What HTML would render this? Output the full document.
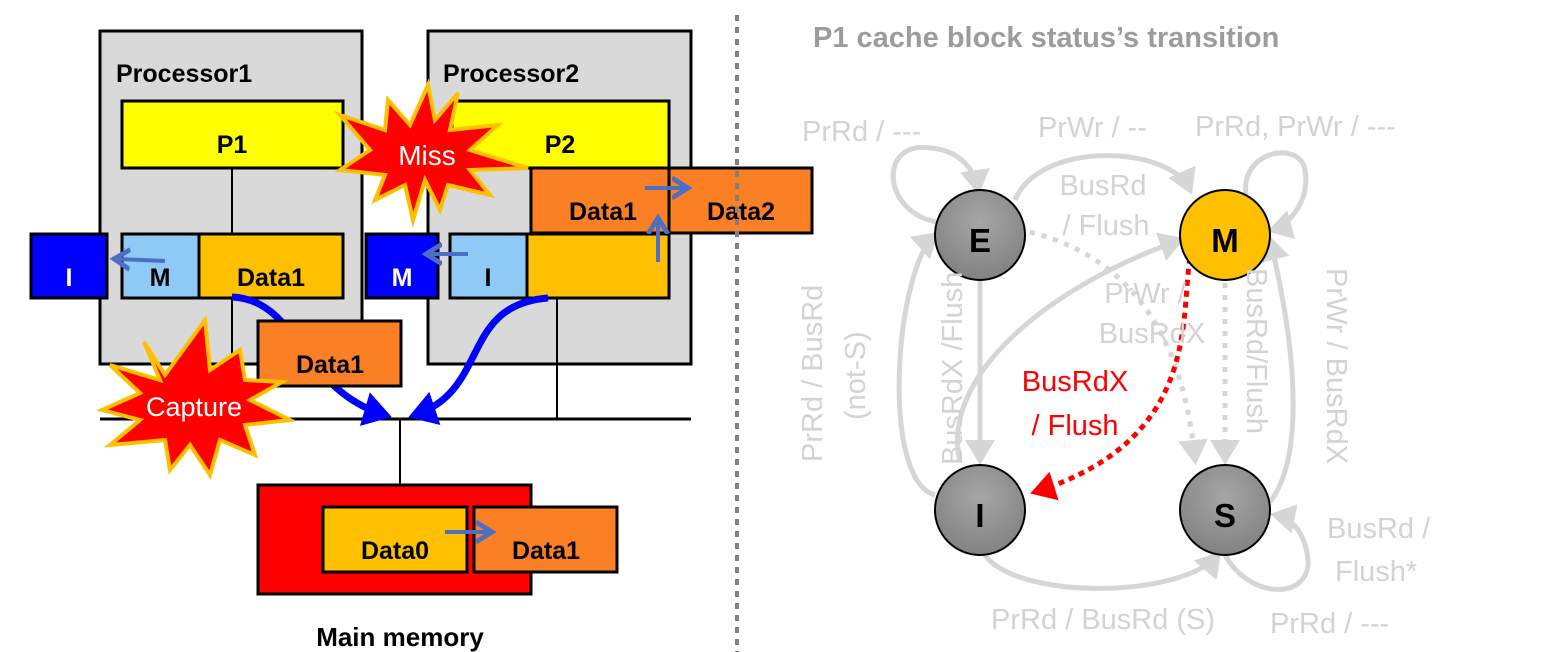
<!DOCTYPE html>
<html><head><meta charset="utf-8"><style>
html,body{margin:0;padding:0;background:#fff;}
svg{display:block;font-family:"Liberation Sans",sans-serif;}
.b{font-weight:bold;}
.g{fill:#d3d3d3;font-size:29px;}
</style></head><body>
<svg width="1555" height="652" viewBox="0 0 1555 652">
<defs>
<marker id="ag" markerWidth="6" markerHeight="6" refX="4" refY="3" orient="auto" markerUnits="strokeWidth"><path d="M0,0L5,3L0,6z" fill="#d6d6d6"/></marker>
<marker id="ar" markerWidth="6" markerHeight="6" refX="4" refY="3" orient="auto" markerUnits="strokeWidth"><path d="M0,0L5,3L0,6z" fill="#f00"/></marker>
<marker id="ab" markerWidth="5" markerHeight="5" refX="3" refY="2.5" orient="auto" markerUnits="strokeWidth"><path d="M0,0L4,2.5L0,5z" fill="#0000ff"/></marker>
<marker id="as" markerWidth="6" markerHeight="6" refX="3" refY="3" orient="auto" markerUnits="strokeWidth"><path d="M0,0.5L4,3L0,5.5" fill="none" stroke="#4a6fc4" stroke-width="1.2"/></marker>
<radialGradient id="gg" cx="0.5" cy="0.35" r="0.7"><stop offset="0" stop-color="#a6a6a6"/><stop offset="1" stop-color="#7f7f7f"/></radialGradient>
</defs>
<rect x="100" y="31" width="262" height="333" fill="#d9d9d9" stroke="#000" stroke-width="3"/>
<rect x="428" y="31" width="263" height="333" fill="#d9d9d9" stroke="#000" stroke-width="3"/>
<text x="116" y="82" class="b" font-size="25">Processor1</text>
<text x="443" y="82" class="b" font-size="25">Processor2</text>
<line x1="232" y1="168" x2="232" y2="233" stroke="#000" stroke-width="2"/>
<line x1="232" y1="298" x2="232" y2="372" stroke="#000" stroke-width="2"/>
<line x1="557" y1="298" x2="557" y2="419" stroke="#000" stroke-width="2"/>
<line x1="100" y1="419" x2="691" y2="419" stroke="#000" stroke-width="3"/>
<line x1="400" y1="419" x2="400" y2="485" stroke="#000" stroke-width="2"/>
<rect x="122" y="101" width="221" height="67" fill="#ffff00" stroke="#000" stroke-width="3"/>
<text x="232" y="153" class="b" font-size="25" text-anchor="middle">P1</text>
<rect x="452" y="101" width="217" height="67" fill="#ffff00" stroke="#000" stroke-width="3"/>
<text x="560" y="153" class="b" font-size="25" text-anchor="middle">P2</text>
<rect x="31" y="234" width="76" height="64" fill="#0000ff" stroke="#000" stroke-width="3"/>
<text x="69" y="286" class="b" font-size="25" fill="#fff" text-anchor="middle">I</text>
<rect x="122" y="234" width="77" height="64" fill="#8fc9f5" stroke="#000" stroke-width="3"/>
<text x="160" y="286" class="b" font-size="25" text-anchor="middle">M</text>
<rect x="199" y="234" width="144" height="64" fill="#ffc000" stroke="#000" stroke-width="3"/>
<text x="271" y="286" class="b" font-size="25" text-anchor="middle">Data1</text>
<line x1="165" y1="261" x2="118" y2="259" stroke="#4a6fc4" stroke-width="4" marker-end="url(#as)"/>
<rect x="366" y="234" width="72" height="64" fill="#0000ff" stroke="#000" stroke-width="3"/>
<text x="402" y="286" class="b" font-size="25" fill="#fff" text-anchor="middle">M</text>
<rect x="450" y="234" width="77" height="64" fill="#8fc9f5" stroke="#000" stroke-width="3"/>
<text x="488" y="286" class="b" font-size="25" text-anchor="middle">I</text>
<rect x="527" y="234" width="142" height="64" fill="#ffc000" stroke="#000" stroke-width="3"/>
<line x1="468" y1="254" x2="430" y2="254" stroke="#4a6fc4" stroke-width="4" marker-end="url(#as)"/>
<rect x="531" y="168" width="138" height="65" fill="#fb7f25" stroke="#000" stroke-width="3"/>
<text x="603" y="220" class="b" font-size="25" text-anchor="middle">Data1</text>
<rect x="669" y="168" width="143" height="65" fill="#fb7f25" stroke="#000" stroke-width="3"/>
<text x="741" y="220" class="b" font-size="25" text-anchor="middle">Data2</text>
<line x1="645" y1="188" x2="684" y2="188" stroke="#4a6fc4" stroke-width="4" marker-end="url(#as)"/>
<line x1="658" y1="262" x2="658" y2="222" stroke="#4a6fc4" stroke-width="4" marker-end="url(#as)"/>
<path d="M232,297 C300,300 300,390 385,415" fill="none" stroke="#0000ff" stroke-width="7" marker-end="url(#ab)"/>
<path d="M548,298 C460,305 490,390 415,415" fill="none" stroke="#0000ff" stroke-width="7" marker-end="url(#ab)"/>
<rect x="258" y="321" width="143" height="65" fill="#fb7f25" stroke="#000" stroke-width="3"/>
<text x="330" y="373" class="b" font-size="25" text-anchor="middle">Data1</text>
<rect x="258" y="485" width="273" height="109" fill="#ff0000" stroke="#000" stroke-width="3"/>
<rect x="323" y="507" width="144" height="65" fill="#ffc000" stroke="#000" stroke-width="3"/>
<text x="395" y="559" class="b" font-size="25" text-anchor="middle">Data0</text>
<rect x="474" y="507" width="143" height="65" fill="#fb7f25" stroke="#000" stroke-width="3"/>
<text x="546" y="559" class="b" font-size="25" text-anchor="middle">Data1</text>
<line x1="445" y1="532" x2="488" y2="532" stroke="#4a6fc4" stroke-width="4" marker-end="url(#as)"/>
<text x="400" y="646" class="b" font-size="26" text-anchor="middle">Main memory</text>
<polygon points="458,93 450,130 498,125 470,150 528,168 470,170 490,195 448,185 440,210 425,180 413,220 405,185 375,200 385,175 340,170 370,150 340,115 385,130 388,100 410,125 428,85 435,120" fill="#ff0000" stroke="#ffc000" stroke-width="4"/>
<text x="427" y="165" font-size="28" fill="#fff" text-anchor="middle">Miss</text>
<polygon points="144,342 165,375 205,320 210,370 240,350 245,380 282,382 250,400 290,420 245,425 255,455 220,440 210,475 190,445 170,470 165,440 110,445 140,420 102,410 140,393 110,365 160,380" fill="#ff0000" stroke="#ffc000" stroke-width="4"/>
<text x="194" y="416" font-size="27" fill="#fff" text-anchor="middle">Capture</text>
<line x1="737" y1="15" x2="737" y2="652" stroke="#808080" stroke-width="4" stroke-dasharray="6,6"/>
<text x="813" y="47" class="b" font-size="29" fill="#9c9c9c">P1 cache block status’s transition</text>
<g fill="none" stroke="#d6d6d6" stroke-width="5">
<path d="M936,222 C880,210 880,140 930,148 C960,150 975,170 978,190" marker-end="url(#ag)"/>
<path d="M1015,200 C1040,140 1170,145 1190,190" marker-end="url(#ag)"/>
<path d="M1246,195 C1240,150 1300,140 1305,170 C1310,200 1290,225 1272,230" marker-end="url(#ag)"/>
<path d="M935,495 C880,480 895,270 935,235" marker-end="url(#ag)"/>
<path d="M980,280 L980,460" marker-end="url(#ag)"/>
<path d="M960,462 C940,380 1040,290 1180,240" marker-end="url(#ag)"/>
<path d="M1270,502 C1310,450 1290,320 1270,240" marker-end="url(#ag)"/>
<path d="M983,552 C1010,600 1180,600 1218,555" marker-end="url(#ag)"/>
<path d="M1225,555 C1250,600 1310,600 1308,560 C1305,530 1290,518 1275,515" marker-end="url(#ag)"/>
<path d="M1030,232 C1100,250 1180,300 1195,460" stroke-dasharray="5,7" marker-end="url(#ag)"/>
<path d="M1225,283 L1225,460" stroke-dasharray="5,7" marker-end="url(#ag)"/>
</g>
<path d="M1190,258 C1180,320 1200,440 1035,492" fill="none" stroke="#f00" stroke-width="5" stroke-dasharray="6,5" marker-end="url(#ar)"/>
<circle cx="980" cy="235" r="45" fill="url(#gg)" stroke="#000" stroke-width="2"/>
<text x="980" y="252" class="b" font-size="33" text-anchor="middle">E</text>
<circle cx="1225" cy="235" r="45" fill="#ffc000" stroke="#000" stroke-width="2"/>
<text x="1225" y="252" class="b" font-size="33" text-anchor="middle">M</text>
<circle cx="980" cy="510" r="45" fill="url(#gg)" stroke="#000" stroke-width="2"/>
<text x="980" y="527" class="b" font-size="33" text-anchor="middle">I</text>
<circle cx="1225" cy="510" r="45" fill="url(#gg)" stroke="#000" stroke-width="2"/>
<text x="1225" y="527" class="b" font-size="33" text-anchor="middle">S</text>
<text x="802" y="141" class="g">PrRd / ---</text>
<text x="1038" y="137" class="g">PrWr / --</text>
<text x="1195" y="136" class="g">PrRd, PrWr / ---</text>
<text x="1103" y="195" class="g" text-anchor="middle">BusRd</text>
<text x="1106" y="235" class="g" text-anchor="middle">/ Flush</text>
<text x="1145" y="303" class="g" text-anchor="middle">PrWr /</text>
<text x="1152" y="343" class="g" text-anchor="middle">BusRdX</text>
<text x="1075" y="391" font-size="29" fill="#f00" text-anchor="middle">BusRdX</text>
<text x="1075" y="435" font-size="29" fill="#f00" text-anchor="middle">/ Flush</text>
<text x="1103" y="629" class="g" text-anchor="middle">PrRd / BusRd (S)</text>
<text x="1270" y="633" class="g">PrRd / ---</text>
<text x="1327" y="538" class="g">BusRd /</text>
<text x="1335" y="581" class="g">Flush*</text>
<text transform="translate(822,462) rotate(-90)" class="g">PrRd / BusRd</text>
<text transform="translate(865,420) rotate(-90)" class="g">(not-S)</text>
<text transform="translate(962,465) rotate(-90)" class="g">BusRdX /Flush</text>
<text transform="translate(1247,268) rotate(90)" class="g">BusRd/Flush</text>
<text transform="translate(1327,268) rotate(90)" class="g">PrWr / BusRdX</text>
</svg>
</body></html>
